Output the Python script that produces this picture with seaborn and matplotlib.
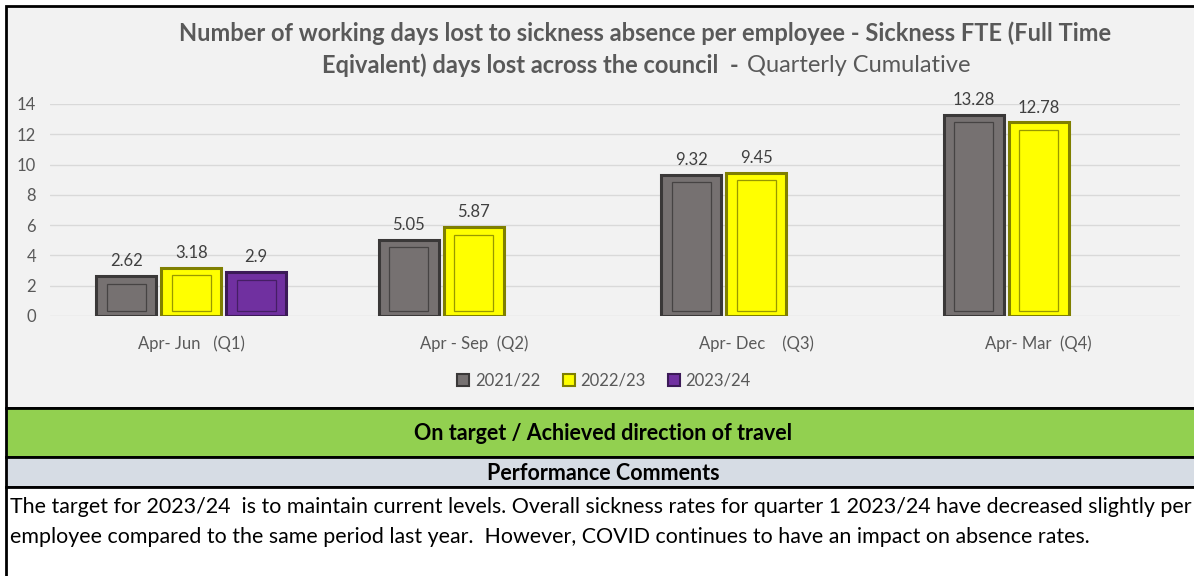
import matplotlib
matplotlib.use("Agg")
import matplotlib.pyplot as plt
from matplotlib.patches import Rectangle
from matplotlib.lines import Line2D
import numpy as np
import pandas as pd
import seaborn as sns

# data
quarters = ["Apr- Jun   (Q1)", "Apr - Sep  (Q2)", "Apr- Dec    (Q3)", "Apr- Mar  (Q4)"]
years = ["2021/22", "2022/23", "2023/24"]
v_2021 = [2.62, 5.05, 9.32, 13.28]
v_2022 = [3.18, 5.87, 9.45, 12.78]
v_2023 = [2.9, np.nan, np.nan, np.nan]

face_cols = ["#767171", "#ffff00", "#7030a0"]
edge_cols = ["#3a3838", "#7f7f00", "#3b1a57"]

df = pd.DataFrame({
    "quarter": quarters * 3,
    "year": [y for y in years for _ in quarters],
    "days": v_2021 + v_2022 + v_2023,
})

sns.set_style("white")
plt.rcParams["font.family"] = ["Lato", "DejaVu Sans"]

fig = plt.figure(figsize=(11.94, 5.76), dpi=100)
W, H = 1194, 576


def box(x0, y0, x1, y1, fc, ec="black", lw=2):
    # pixel coords measured from top-left
    fig.patches.append(Rectangle((x0 / W, 1 - y1 / H), (x1 - x0) / W, (y1 - y0) / H,
                                 transform=fig.transFigure, facecolor=fc, edgecolor=ec,
                                 linewidth=lw, zorder=-5))


# background panels
box(6, 6, 1200, 408, "#f2f2f2")
box(6, 408, 1200, 457, "#92d050")
box(6, 457, 1200, 487, "#d6dce4")
box(6, 487, 1200, 590, "white")

ax = fig.add_axes([50 / W, 1 - 316 / H, 1130 / W, 212 / H])
ax.set_facecolor("none")

sns.barplot(data=df, x="quarter", y="days", hue="year", hue_order=years,
            order=quarters, palette=face_cols, saturation=1, width=0.69, ax=ax,
            edgecolor="none", legend=False, zorder=3)

# give each bar a bevelled look and a value label
for i, cont in enumerate(ax.containers):
    vals = [v_2021, v_2022, v_2023][i]
    for p, v in zip(cont.patches, vals):
        if np.isnan(v) or p.get_height() <= 0:
            continue
        x, w, h = p.get_x(), p.get_width(), p.get_height()
        p.set_x(x + w * 0.04)
        p.set_width(w * 0.92)
        p.set_edgecolor(edge_cols[i])
        p.set_linewidth(2.2)
        ix, iw = x + w * 0.2, w * 0.6
        ax.add_patch(Rectangle((ix, 0.35), iw, h - 0.85, facecolor="none",
                               edgecolor=edge_cols[i], linewidth=0.9, alpha=0.8, zorder=4))
        ax.annotate(f"{v:g}", (x + w / 2, h), xytext=(0, 5), textcoords="offset points",
                    ha="center", va="bottom", fontsize=12, color="#404040",
                    annotation_clip=False)

ax.set_ylim(0, 14)
ax.set_xlim(-0.5, 3.5)
ax.set_yticks(range(0, 15, 2))
ax.yaxis.grid(True, color="#d9d9d9", linewidth=1)
ax.set_axisbelow(True)
for s in ax.spines.values():
    s.set_visible(False)
ax.tick_params(axis="both", length=0, labelsize=12, labelcolor="#595959")
ax.tick_params(axis="x", pad=14)
ax.tick_params(axis="y", pad=10)
ax.set_xlabel("")
ax.set_ylabel("")

handles = [Line2D([0], [0], marker="s", linestyle="none", markersize=9,
                  markerfacecolor=fc, markeredgecolor=ec, markeredgewidth=1.5)
           for fc, ec in zip(face_cols, edge_cols)]
fig.legend(handles, years, loc="center", bbox_to_anchor=(603 / W, 1 - 381 / H), ncol=3,
           frameon=False, fontsize=12, labelcolor="#595959", handletextpad=0.2,
           columnspacing=1.2, handlelength=1.0)

# title
fig.text(645 / W, 1 - 33 / H,
         "Number of working days lost to sickness absence per employee - Sickness FTE (Full Time",
         ha="center", va="center", fontsize=17, fontweight="bold", color="#595959")
fig.text(744 / W, 1 - 65 / H, "Eqivalent) days lost across the council  - ",
         ha="right", va="center", fontsize=17, fontweight="bold", color="#595959")
fig.text(747 / W, 1 - 65 / H, "Quarterly Cumulative",
         ha="left", va="center", fontsize=17, color="#595959")

# status bands and comments
fig.text(603 / W, 1 - 433 / H, "On target / Achieved direction of travel",
         ha="center", va="center", fontsize=15.5, fontweight="bold", color="black")
fig.text(603 / W, 1 - 473 / H, "Performance Comments",
         ha="center", va="center", fontsize=15.5, fontweight="bold", color="black")
fig.text(10 / W, 1 - 507 / H,
         "The target for 2023/24  is to maintain current levels. Overall sickness rates for quarter 1 2023/24 have decreased slightly per",
         ha="left", va="center", fontsize=15.4, color="black")
fig.text(10 / W, 1 - 537 / H,
         "employee compared to the same period last year.  However, COVID continues to have an impact on absence rates.",
         ha="left", va="center", fontsize=15.4, color="black")

fig.savefig("out.png", dpi=100)
